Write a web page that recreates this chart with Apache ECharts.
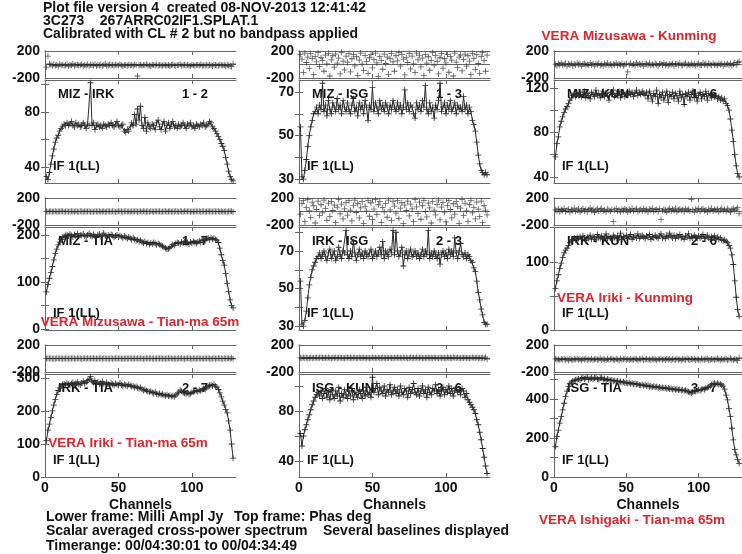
<!DOCTYPE html>
<html><head><meta charset="utf-8">
<script src="https://cdn.jsdelivr.net/npm/echarts@6/dist/echarts.min.js"></script>
<style>html,body{margin:0;padding:0;background:#fff}#c{width:742px;height:554px}</style>
</head><body><div id="c"></div>
<script>
// ---------- DATA ----------
const titleLines = ['Plot file version 4  created 08-NOV-2013 12:41:42', '3C273    267ARRC02IF1.SPLAT.1', 'Calibrated with CL # 2 but no bandpass applied'];
const baselines = ['MIZ - IRK','MIZ - ISG','MIZ - KUN','MIZ - TIA','IRK - ISG','IRK - KUN','IRK - TIA','ISG - KUN','ISG - TIA'];
const pairs = ['1 - 2','1 - 3','1 - 6','1 - 7','2 - 3','2 - 6','2 - 7','3 - 6','3 - 7'];
const ifLabel = 'IF 1(LL)';
const xTicks = [0, 50, 100];
const phaseTicks = [-200, 0, 200];

const ampMizIrk = [33,31,36,42,48,53,58,61,63,66,68,69,71,70,72,70,
71,73,70,69,72,70,71,69,70,72,70,68,71,70,101,70,
72,67,70,71,69,70,68,71,70,69,71,70,72,70,69,71,
73,70,69,70,71,66,65,67,66,69,72,70,78,71,82,74,
84,70,68,76,66,72,69,68,71,70,67,72,74,69,67,71,
73,66,70,72,68,71,73,69,70,68,71,69,70,72,70,68,
71,70,72,69,70,68,71,70,69,71,70,72,69,70,71,73,
72,69,68,66,64,62,60,57,55,52,47,42,37,33,31,30];
const phMizIrk = [-40,125,10,-5,-20,0,-15,-8,-25,5,-12,-3,-18,-10,2,-22,
-6,-14,8,-20,-9,-2,-16,-11,4,-24,-7,-13,0,-19,-5,-10,
-15,3,-21,-8,-12,-4,-17,-9,6,-23,-11,-1,-14,-7,-20,-3,
-10,-16,5,-12,-25,-6,-9,-18,-2,-13,-8,-21,0,-11,-170,-15,
-4,-19,-7,-12,3,-16,-10,-22,-5,-9,-14,1,-18,-8,-12,-20,
-3,-11,-15,-6,-24,-9,-1,-13,-17,-7,-10,2,-19,-12,-5,-16,
-8,-14,-22,-4,-11,-18,-6,-9,-15,0,-20,-10,-13,-3,-17,-7,
-12,-21,-5,-9,-14,-18,-2,-11,-16,-8,-25,-6,-13,-19,-30,10];

const ampMizIsg = [54,31,30,34,39,45,50,54,57,60,61,63,60,64,62,74,
61,64,59,66,62,60,65,63,61,67,62,64,60,66,63,61,
65,62,60,64,67,61,63,59,65,62,64,60,66,63,57,64,
62,72,61,65,63,60,66,62,64,61,65,63,60,64,62,66,
63,61,65,62,64,60,63,71,62,65,61,64,63,60,58,65,
62,64,61,66,63,73,62,60,65,61,63,58,64,62,66,74,
61,63,65,60,64,62,66,61,63,65,60,64,62,63,61,68,
62,64,60,63,61,57,55,52,47,41,37,34,33,32,33,32];
const phMizIsg = [150,80,-120,170,30,110,-60,160,90,-150,120,40,175,-30,100,60,
-100,140,10,165,-170,70,130,-40,155,20,95,-140,180,50,-80,125,
35,160,-110,85,145,-20,115,-160,65,170,5,-90,135,45,-130,100,
150,-50,75,170,25,-175,120,60,-70,155,15,110,-145,90,165,40,
-100,130,55,175,-25,145,80,-155,105,30,160,-65,125,10,-120,170,
70,140,-35,95,-165,150,20,115,-85,60,175,-10,135,45,-140,100,
160,-55,85,25,150,-115,120,65,-170,170,35,-45,110,140,-95,75,
155,-25,130,50,-150,165,90,-75,145,15,-130,120,175,60,-100,140];

const ampMizKun = [58,70,76,85,90,94,98,101,103,106,109,111,113,114,112,115,
113,116,112,114,117,111,115,113,110,116,114,112,118,113,115,111,
114,117,112,115,113,109,116,114,118,112,115,113,117,111,114,116,
112,115,113,117,114,116,112,115,118,113,116,114,117,115,113,116,
110,117,113,108,115,112,118,106,114,111,116,109,113,117,107,114,
112,116,110,115,113,108,117,111,114,105,115,112,116,109,114,117,
111,115,108,113,116,110,114,112,117,109,115,113,111,114,112,113,
110,112,109,111,108,110,106,104,100,92,82,72,60,50,43,40];
const phMizKun = [5,-20,15,-8,22,-12,3,18,-25,10,-5,14,-18,7,-10,20,
-3,12,-22,6,16,-9,0,-15,24,-6,11,-19,8,-2,17,-13,
4,-21,13,-7,19,-11,2,-16,9,-4,21,-14,6,-8,15,-20,
1,12,-110,-5,18,-12,7,-17,23,-3,10,-9,14,-23,5,11,
-6,19,-14,3,-10,16,-1,-18,8,13,-7,22,-12,4,-16,9,
-2,15,-21,6,12,-9,18,-4,-13,7,20,-15,2,-8,14,-11,
10,-19,5,17,-6,-12,21,-3,9,-16,13,-1,-10,18,-7,4,
-14,11,-5,16,-20,8,-2,12,-9,15,-17,3,25,-6,30,45];

const ampMizTia = [79,95,108,120,133,147,161,170,179,185,191,195,197,199,200,198,
202,199,196,201,198,203,197,200,199,202,198,196,200,203,199,197,
201,198,195,200,202,197,199,204,198,196,200,197,201,199,195,198,
200,196,199,197,194,198,195,192,196,193,190,194,191,188,190,186,
189,185,183,186,182,184,180,183,181,184,182,179,182,180,178,176,
174,172,170,171,173,176,180,178,182,184,183,181,185,183,186,182,
184,181,185,183,186,184,182,185,187,184,189,191,188,192,193,190,
194,191,193,190,189,184,172,158,146,136,118,97,80,62,50,45];
const phMizTia = [2,-3,1,4,-2,0,3,-4,1,-1,2,5,-3,0,2,-2,
1,3,-1,-4,2,0,-2,3,1,-3,4,-1,0,2,-2,1,
-3,3,0,-1,2,-4,1,4,-2,0,3,-1,-3,2,1,-2,
0,4,-1,2,-3,1,3,-2,0,-4,2,1,-1,3,-2,0,
2,-3,4,1,-1,0,-2,3,1,-4,2,-1,0,3,-2,1,
-1,2,-3,0,4,-2,1,-1,3,0,-3,2,1,-2,4,-1,
0,3,-2,1,-4,2,0,-1,3,-3,1,2,-2,0,4,-1,
1,-3,2,0,-1,3,-2,4,-4,1,0,-2,3,-1,5,-6];

const ampIrkIsg = [54,31,30,33,38,45,52,56,60,62,64,66,67,69,66,68,
70,67,65,69,71,66,68,70,65,67,72,68,66,70,69,81,
68,66,70,67,75,69,65,68,71,67,69,66,70,68,67,69,
71,66,68,70,67,69,72,68,75,66,70,68,67,71,69,81,
68,80,70,67,69,72,62,68,70,66,69,71,67,68,70,67,
69,66,68,71,67,70,68,81,66,69,67,70,68,66,69,63,
68,70,67,69,66,71,68,70,67,77,69,66,70,74,68,67,
69,66,68,67,65,64,61,59,54,48,44,39,36,32,31,31];
const phIrkIsg = [-40,120,160,-150,60,175,10,-90,140,85,-170,30,155,-60,100,-20,
170,45,-130,125,-75,150,15,95,-165,65,180,-35,110,-110,40,135,
-55,160,20,-140,90,170,-15,115,-95,55,145,-175,75,5,165,-70,
130,-120,35,175,-45,100,150,-160,60,-5,120,-85,170,25,-135,145,
80,-25,160,-105,50,130,-180,95,15,155,-65,110,40,-150,175,70,
-30,140,-115,85,165,0,-80,125,55,-170,150,20,-50,105,170,-125,
65,135,-10,-155,90,160,30,-95,115,-40,145,75,-175,50,180,-60,
125,10,-145,100,165,-20,60,-110,140,35,-75,155,-165,85,20,-50];

const ampIrkKun = [61,72,81,90,98,106,113,117,120,124,128,131,133,135,132,136,
134,137,133,138,135,131,136,134,139,133,137,135,132,140,136,134,
138,133,136,141,134,137,135,132,139,136,134,138,135,142,133,137,
135,139,134,137,140,133,136,138,135,141,134,137,139,136,134,138,
136,140,133,137,135,139,136,134,138,141,135,137,134,139,136,142,
137,135,139,134,138,136,140,135,137,133,138,136,141,134,137,135,
139,136,134,138,135,137,140,134,136,139,135,133,137,135,138,134,
136,133,135,132,131,132,130,128,124,120,110,96,72,48,30,20];
const phIrkKun = [25,10,40,-5,30,15,45,0,20,35,-10,28,12,50,5,22,
38,-8,18,42,8,30,-2,26,48,14,33,-12,21,40,6,29,
45,11,24,-6,36,17,2,31,-150,19,44,7,27,-4,35,13,
41,23,-9,32,16,47,4,25,39,-1,20,34,9,43,14,28,
-7,37,18,46,3,24,30,-3,41,-120,12,35,21,-11,27,44,
8,33,15,49,-5,22,38,10,29,-2,42,17,31,6,180,26,
-8,36,19,45,1,28,40,12,24,-6,34,15,47,9,30,20,
37,-4,25,43,11,32,5,39,18,-10,28,46,14,35,60,-30];

const ampIrkTia = [110,142,160,180,200,218,235,250,262,270,276,280,282,279,284,281,
278,283,286,280,284,288,282,279,285,290,283,287,292,296,304,290,
286,292,284,288,281,285,289,283,280,286,282,279,284,281,277,283,
280,278,284,279,276,281,278,275,280,277,274,276,272,274,270,268,
271,266,263,265,261,259,258,260,256,254,257,252,250,253,249,251,
248,246,249,245,247,244,246,243,248,252,257,263,260,256,254,252,
255,251,253,256,258,260,262,259,263,261,265,268,266,270,274,277,
279,276,280,275,272,265,255,243,230,218,205,194,170,142,100,57];
const phIrkTia = [-1,2,0,3,-2,1,-3,2,0,-1,3,-2,1,0,2,-3,
1,-1,3,0,-2,2,-1,1,-3,0,2,-2,3,1,-1,0,
2,-3,1,-1,0,3,-2,2,-1,1,0,-3,2,-2,1,3,
-1,0,2,-2,1,-3,3,0,-1,2,-2,1,0,-1,3,-3,
2,0,-2,1,3,-1,0,2,-3,1,-2,0,3,-1,2,-2,
1,-3,0,2,-1,3,-2,1,0,-2,2,-1,3,0,-3,1,
2,-1,0,-2,3,1,-3,2,-1,0,1,-2,3,-1,2,0,
-2,1,3,-3,0,2,-1,1,-2,3,0,-1,2,-4,6,-5];

const ampIsgKun = [62,52,60,65,69,73,77,81,85,88,91,93,95,92,96,90,
94,98,91,95,89,97,93,90,96,92,99,88,94,91,97,93,
90,96,92,98,89,95,93,91,97,94,90,96,92,99,93,95,
91,107,95,98,102,93,99,96,94,100,92,97,95,101,93,96,
99,94,97,92,100,95,93,98,96,91,99,94,97,102,95,93,
98,92,96,100,94,97,91,99,95,93,98,96,101,94,97,92,
96,99,93,97,95,100,94,98,92,96,99,95,97,93,98,96,
91,94,89,87,85,83,81,78,73,69,63,57,50,43,36,30];
const phIsgKun = [10,4,14,6,12,2,9,15,5,11,7,13,3,10,16,6,
8,12,4,14,9,1,11,7,15,5,10,13,6,9,3,12,
14,7,10,2,11,16,5,9,13,6,8,15,4,12,10,7,
3,14,9,11,5,13,8,6,16,10,4,12,7,15,9,2,
11,6,13,8,10,4,15,7,12,3,9,14,6,11,8,16,
5,10,13,7,2,12,9,15,6,11,4,14,8,10,3,13,
7,12,9,5,16,8,11,4,13,10,6,14,9,2,12,7,
15,8,11,5,10,13,6,9,14,4,12,7,10,3,20,-10];

const ampIsgTia = [155,207,240,276,310,344,378,412,440,463,478,486,492,495,498,500,
503,497,505,510,502,506,512,499,504,508,501,507,511,503,498,506,
509,500,504,496,502,499,494,497,491,495,488,492,486,490,484,488,
482,485,480,483,478,481,476,479,474,477,472,470,474,468,471,466,
469,464,467,462,465,460,463,458,461,456,459,455,458,453,456,451,
454,449,452,447,450,446,449,444,447,442,445,440,437,433,430,436,
441,438,444,447,443,449,452,448,455,458,462,466,473,478,480,476,
481,474,477,472,466,450,420,395,350,309,250,190,140,113,90,70];
const phIsgTia = [-5,-20,-10,-25,-8,-15,-2,-18,-12,-28,-6,-14,-22,-9,-16,-3,
-19,-11,-26,-7,-13,0,-21,-10,-17,-4,-24,-12,-8,-20,-15,-1,
-23,-9,-14,-27,-6,-18,-11,-3,-16,-22,-8,-13,-25,-5,-19,-10,
-2,-17,-12,-24,-7,-15,-20,-4,-11,-26,-9,-14,-1,-21,-13,-6,
-18,-10,-23,-3,-16,-12,-27,-8,-14,-5,-19,-11,-22,-2,-15,-9,
-24,-7,-13,-17,-4,-20,-10,-26,-6,-12,-18,-1,-15,-21,-8,-14,
-3,-22,-11,-16,-25,-5,-13,-19,-9,-2,-17,-23,-7,-12,-20,-10,
-4,-15,-26,-8,-18,-11,-6,-21,-14,-1,-16,-24,-9,-13,-30,10];

const ampSeries = [ampMizIrk, ampMizIsg, ampMizKun, ampMizTia, ampIrkIsg, ampIrkKun, ampIrkTia, ampIsgKun, ampIsgTia];
const phSeries = [phMizIrk, phMizIsg, phMizKun, phMizTia, phIrkIsg, phIrkKun, phIrkTia, phIsgKun, phIsgTia];
// amplitude axis ranges and tick labels per panel
const ampMin = [28.4, 28.2, 34.6, -2, 27.9, 0, 0, 27.2, 0];
const ampMax = [103, 75.5, 127, 217, 82.8, 151, 312, 109.6, 528];
const ampTickVals = [[40,60,80,100],[30,40,50,60,70],[40,60,80,100,120],[0,50,100,150,200],[30,40,50,60,70,80],[0,50,100,150],[0,100,200,300],[40,60,80,100],[0,100,200,300,400,500]];
const ampLabelVals = [[40,80],[30,50,70],[40,80,120],[0,100,200],[30,50,70],[0,100],[0,100,200,300],[40,80],[0,200,400]];
const redLabels = ['VERA Mizusawa - Kunming','VERA Mizusawa - Tian-ma 65m','VERA Iriki - Kunming','VERA Iriki - Tian-ma 65m','VERA Ishigaki - Tian-ma 65m'];
const footLines = ['Lower frame: Milli Ampl Jy','Top frame: Phas deg','Scalar averaged cross-power spectrum','Several baselines displayed','Timerange: 00/04:30:01 to 00/04:34:49'];

// ---------- LAYOUT ----------
const colLeft = [45, 299, 554];
const plotW = 191;
const phTop = [51, 198, 345], phH = 27;
const ampTop = [80, 227, 374], ampH = 103;
const FF = '"Liberation Sans", Arial, sans-serif';
const F13 = 'bold 13px ' + FF;
const F135 = 'bold 13.5px ' + FF;
const F14 = 'bold 14px ' + FF;
const frameCol = '#666', dataCol = '#2a2a2a', txtCol = '#111', red = '#e2232a';
const cross = 'path://M0,2.6H6V3.4H0Z M2.6,0H3.4V6H2.6Z';

const grids = [], xAxes = [], yAxes = [], series = [];
const lblStyle = {color: txtCol, fontFamily: FF, fontWeight: 'bold', fontSize: 14};
function xAx(gi, pos, showLbl, name) {
  return {type:'value', gridIndex: gi, position: pos, min: 0, max: 130, interval: 50,
    axisLine: {show: true, onZero: false, lineStyle: {color: frameCol, width: 1}},
    axisTick: {show: true, inside: true, length: 4, customValues: xTicks, lineStyle: {color: frameCol}},
    axisLabel: {show: showLbl, margin: 4, customValues: xTicks, ...lblStyle},
    splitLine: {show: false},
    name: name || '', nameLocation: 'middle', nameGap: 21,
    nameTextStyle: {color: txtCol, fontFamily: FF, fontWeight: 'bold', fontSize: 14}};
}
for (let p = 0; p < 9; p++) {
  const r = Math.floor(p / 3), c = p % 3;
  const gPh = grids.length;
  grids.push({left: colLeft[c], top: phTop[r], width: plotW, height: phH, containLabel: false});
  const gAmp = grids.length;
  grids.push({left: colLeft[c], top: ampTop[r], width: plotW, height: ampH, containLabel: false});
  const xi = xAxes.length;
  xAxes.push(xAx(gPh, 'bottom', false), xAx(gPh, 'top', false),
             xAx(gAmp, 'bottom', r === 2, r === 2 ? 'Channels' : ''), xAx(gAmp, 'top', false));
  const yi = yAxes.length;
  yAxes.push({type:'value', gridIndex: gPh, position:'left', min: phaseTicks[0], max: phaseTicks[2], interval: 200,
    axisLine: {show:true, lineStyle:{color: frameCol}}, axisTick: {show:false},
    axisLabel: {show:true, margin: 5, formatter: v => (v === 0 ? '' : String(v)), ...lblStyle},
    splitLine: {show:true, lineStyle:{color: frameCol, width: 1}}});
  yAxes.push({type:'value', gridIndex: gPh, position:'right', min: phaseTicks[0], max: phaseTicks[2], interval: 200,
    axisLine: {show:true, lineStyle:{color: frameCol}}, axisTick:{show:false}, axisLabel:{show:false}, splitLine:{show:false}});
  yAxes.push({type:'value', gridIndex: gAmp, position:'left', min: ampMin[p], max: ampMax[p],
    axisLine: {show:true, lineStyle:{color: frameCol}},
    axisTick: {show:true, inside:true, length:4, customValues: ampTickVals[p], lineStyle:{color: frameCol}},
    axisLabel: {show:true, margin: 5, customValues: ampLabelVals[p], ...lblStyle},
    splitLine: {show:false}});
  yAxes.push({type:'value', gridIndex: gAmp, position:'right', min: ampMin[p], max: ampMax[p],
    axisLine: {show:true, lineStyle:{color: frameCol}},
    axisTick: {show:true, inside:true, length:4, customValues: ampTickVals[p], lineStyle:{color: frameCol}},
    axisLabel: {show:false}, splitLine:{show:false}});
  series.push({type:'scatter', xAxisIndex: xi, yAxisIndex: yi, symbol: cross, symbolSize: 6,
    itemStyle:{color: dataCol}, data: phSeries[p].map((v, i) => [i + 1, v]), silent: true});
  series.push({type:'line', xAxisIndex: xi + 2, yAxisIndex: yi + 2, symbol: cross, symbolSize: 6, showSymbol: true,
    lineStyle:{color: dataCol, width: 1}, itemStyle:{color: dataCol},
    data: ampSeries[p].map((v, i) => [i + 1, v]), silent: true});
}

const graphic = [];
function txt(s, x, y, font, fill, align) {
  graphic.push({type:'text', x: x, y: y, silent:true, style:{text: s, font: font, fill: fill || txtCol, textAlign: align || 'left', textVerticalAlign: 'middle'}});
}
txt(titleLines[0], 43, 8, F14);
txt(titleLines[1], 43, 21, F14);
txt(titleLines[2], 43, 34, F14);
for (let p = 0; p < 9; p++) {
  const r = Math.floor(p / 3), c = p % 3;
  txt(baselines[p], colLeft[c] + 13, ampTop[r] + 14, F13);
  txt(pairs[p], colLeft[c] + 137, ampTop[r] + 14, F13);
  txt(ifLabel, colLeft[c] + 8, ampTop[r] + ampH - 17, F13);
}
txt(redLabels[0], 629, 36, F135, red, 'center');
txt(redLabels[1], 140, 322, F135, red, 'center');
txt(redLabels[2], 625, 298, F135, red, 'center');
txt(redLabels[3], 128, 443, F135, red, 'center');
txt(redLabels[4], 632, 520, F135, red, 'center');
txt(footLines[0], 46, 517, F14);
txt(footLines[1], 234, 517, F14);
txt(footLines[2], 46, 531, F14);
txt(footLines[3], 323, 531, F14);
txt(footLines[4], 46, 546, F14);

const chart = echarts.init(document.getElementById('c'), null, {renderer:'canvas'});
chart.setOption({animation:false, backgroundColor:'#fff', grid: grids, xAxis: xAxes, yAxis: yAxes, series: series, graphic: graphic});
</script></body></html>
